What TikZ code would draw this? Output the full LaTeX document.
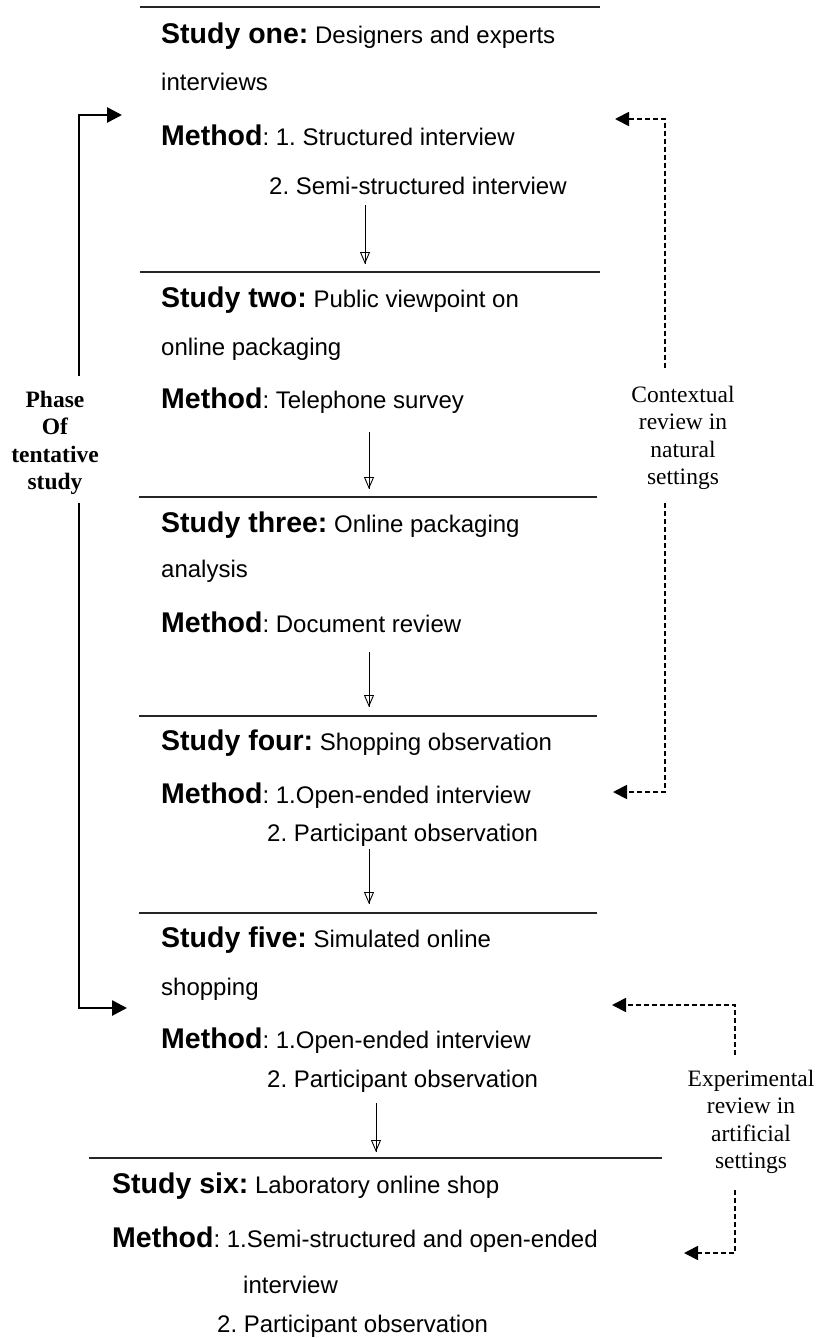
\documentclass[tikz,border=0pt]{standalone}
\usepackage{fontspec}
\setmainfont{Liberation Serif}
\setsansfont{Liberation Sans}
\usetikzlibrary{arrows.meta}
\tikzset{
  txt/.style={anchor=base west, inner sep=0pt, font=\sffamily\fontsize{24}{28}\selectfont},
  side/.style={align=center, inner sep=0pt, font=\fontsize{23.5}{27.3}\selectfont},
  rule/.style={line width=2pt, draw=black!85},
  shaft/.style={line width=0.9pt},
  flow/.style={line width=0.9pt, -{Triangle[open,length=12pt,width=10pt]}},
  bracket/.style={line width=2.7pt, -{Triangle[length=15pt,width=15pt]}},
  review/.style={line width=1.8pt, dash pattern=on 5pt off 3pt, -{Triangle[length=14pt,width=14pt]}},
}
\newcommand\lead[1]{{\fontsize{28.5}{32}\selectfont\bfseries #1}}
\begin{document}
\frenchspacing
\begin{tikzpicture}[x=1pt,y=-1pt]
\useasboundingbox (0,0) rectangle (817,1338);

% separators between the studies
\draw[rule] (140,7) -- (600,7);
\draw[rule] (140,272) -- (600,272);
\draw[rule] (139,497) -- (597,497);
\draw[rule] (139,716) -- (597,716);
\draw[rule] (139,913) -- (597,913);
\draw[rule] (89,1158) -- (662,1158);

% study one
\node[txt] (s1a) at (161,44)  {\lead{Study one:} Designers and experts};
\node[txt] (s1b) at (161,90)  {interviews};
\node[txt] (s1c) at (161,145) {\lead{Method}: 1. Structured interview};
\node[txt] (s1d) at (269,194) {2. Semi-structured interview};

% study two
\node[txt] (s2a) at (161,307) {\lead{Study two:} Public viewpoint on};
\node[txt] (s2b) at (161,355) {online packaging};
\node[txt] (s2c) at (161,408) {\lead{Method}: Telephone survey};

% study three
\node[txt] (s3a) at (161,532) {\lead{Study three:} Online packaging};
\node[txt] (s3b) at (161,577) {analysis};
\node[txt] (s3c) at (161,632) {\lead{Method}: Document review};

% study four
\node[txt] (s4a) at (161,750) {\lead{Study four:} Shopping observation};
\node[txt] (s4b) at (161,803) {\lead{Method}: 1.Open-ended interview};
\node[txt] (s4c) at (267,841) {2. Participant observation};

% study five
\node[txt] (s5a) at (161,947)  {\lead{Study five:} Simulated online};
\node[txt] (s5b) at (161,995)  {shopping};
\node[txt] (s5c) at (161,1048) {\lead{Method}: 1.Open-ended interview};
\node[txt] (s5d) at (267,1087) {2. Participant observation};

% study six
\node[txt] (s6a) at (112,1193) {\lead{Study six:} Laboratory online shop};
\node[txt] (s6b) at (112,1247) {\lead{Method}: 1.Semi-structured and open-ended};
\node[txt] (s6c) at (243,1293) {interview};
\node[txt] (s6d) at (217,1332) {2. Participant observation};

% flow between studies: open head with the shaft running through it
\coordinate (f1a) at (365,205);  \coordinate (f1b) at (365,264);
\coordinate (f2a) at (369,432);  \coordinate (f2b) at (369,489);
\coordinate (f3a) at (369,652);  \coordinate (f3b) at (369,707);
\coordinate (f4a) at (369,849);  \coordinate (f4b) at (369,904);
\coordinate (f5a) at (376,1103); \coordinate (f5b) at (376,1152);
\foreach \a/\b in {f1a/f1b,f2a/f2b,f3a/f3b,f4a/f4b,f5a/f5b}{
  \draw[flow] (\a) -- (\b);
  \draw[shaft] (\a) -- (\b);
}

% phase of tentative study (left bracket)
\node[side, font=\fontsize{23.5}{27.3}\selectfont\bfseries] (phase) at (55,443) {Phase\\Of\\tentative\\study};
\coordinate (ptop) at (79,376);
\coordinate (pbot) at (79,503);
\coordinate (pin1) at (122,115);
\coordinate (pin5) at (127,1008);
\draw[bracket] (ptop) |- (pin1);
\draw[bracket] (pbot) |- (pin5);

% contextual review
\node[side] (ctx) at (683,438) {Contextual\\review in\\natural\\settings};
\coordinate (ctop) at (665,368);
\coordinate (cbot) at (665,503);
\coordinate (cin1) at (615,119);
\coordinate (cin4) at (613,792);
\draw[review] (ctop) |- (cin1);
\draw[review] (cbot) |- (cin4);

% experimental review
\node[side] (exp) at (751,1122) {Experimental\\review in\\artificial\\settings};
\coordinate (etop) at (735,1055);
\coordinate (ebot) at (735,1190);
\coordinate (ein5) at (612,1005);
\coordinate (ein6) at (684,1253);
\draw[review] (etop) |- (ein5);
\draw[review] (ebot) |- (ein6);
\end{tikzpicture}
\end{document}
